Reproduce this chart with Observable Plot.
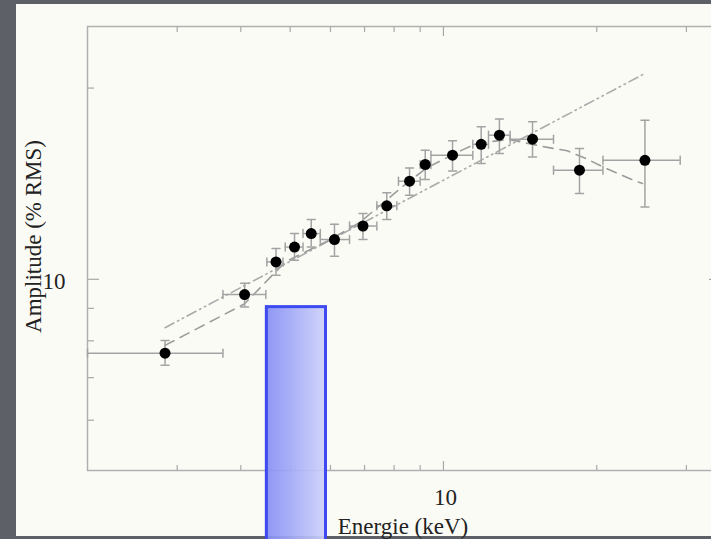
<!DOCTYPE html>
<html><head><meta charset="utf-8">
<script src="https://cdn.jsdelivr.net/npm/d3@7"></script>
<script src="https://cdn.jsdelivr.net/npm/@observablehq/plot@0.6"></script>
<style>
html,body{margin:0;padding:0;background:#5d6067;}
#wrap{position:relative;width:711px;height:539px;overflow:hidden;background:#5d6067;}
#panel{position:absolute;left:16px;top:4px;width:695px;height:532px;background:#fbfbf6;}
#chart{position:absolute;left:0;top:0;width:720px;height:539px;}
#chart svg{max-width:none !important;width:720px;height:539px;}
</style></head><body>
<div id="wrap"><div id="panel"></div><div id="chart"></div></div>
<script>
// Data points (energy bins in keV, amplitude in % RMS)
const energy   = [2.84, 4.07, 4.69, 5.10, 5.50, 6.11, 6.95, 7.74, 8.58, 9.21, 10.42, 11.86, 12.88, 14.96, 18.50, 24.87];
const energyLo = [2.00, 3.69, 4.50, 4.89, 5.30, 5.73, 6.54, 7.40, 8.16, 9.00, 9.45, 11.42, 12.26, 13.52, 16.45, 20.57];
const energyHi = [3.69, 4.48, 4.84, 5.30, 5.73, 6.54, 7.40, 8.10, 9.00, 9.45, 11.42, 12.26, 13.52, 16.45, 20.57, 29.17];
const amplitude = [7.65, 9.46, 10.65, 11.24, 11.80, 11.55, 12.13, 13.05, 14.27, 15.16, 15.68, 16.31, 16.86, 16.62, 14.85, 15.39];
const ampLo     = [7.32, 9.04, 10.15, 10.71, 11.24, 10.87, 11.55, 12.42, 13.56, 14.36, 14.81, 15.22, 15.78, 15.58, 13.65, 12.99];
const ampHi     = [8.01, 9.86, 11.18, 11.80, 12.42, 12.21, 12.69, 13.68, 14.97, 15.97, 16.52, 17.38, 17.87, 17.70, 16.07, 17.79];

// Dashed model curve
const modelEnergy = [2.84, 4.07, 4.89, 5.43, 6.0, 6.86, 7.97, 8.41, 9.3, 10.93, 11.63, 13.4, 13.95, 15.8, 17.5, 19.0, 20.9, 23.6, 24.6];
const modelAmp    = [7.87, 9.15, 10.65, 11.1, 11.55, 12.3, 13.6, 14.1, 15.0, 16.0, 16.36, 16.6, 16.5, 16.16, 15.93, 15.5, 14.94, 14.32, 14.15];

// Dash-dot power law
const powerLawEnergy = [2.84, 24.9];
const powerLawAmp    = [8.39, 21.1];

// Highlighted energy band
const bandLo = [4.50];
const bandHi = [5.88];
const bandTop = [9.04];

// Axes
const xDomain = [2, 35];
const yDomain = [5, 25];
const xTickMajor = [10];
const xTickMinor = [3, 4, 5, 6, 7, 8, 9, 20, 30];
const yTickMajor = [10];
const yTickMinor = [6, 7, 8, 9, 20];

const points = energy.map((e, i) => ({e, lo: energyLo[i], hi: energyHi[i], a: amplitude[i], alo: ampLo[i], ahi: ampHi[i]}));
const model = modelEnergy.map((e, i) => ({e, a: modelAmp[i]}));
const powerLaw = powerLawEnergy.map((e, i) => ({e, a: powerLawAmp[i]}));
const band = bandLo.map((lo, i) => ({lo, hi: bandHi[i], top: bandTop[i], bottom: yDomain[0]}));

const hCap = {draw(ctx, l) { ctx.moveTo(-l / 2, 0); ctx.lineTo(l / 2, 0); }};
const vCap = {draw(ctx, l) { ctx.moveTo(0, -l / 2); ctx.lineTo(0, l / 2); }};

const font = "Liberation Serif, Times New Roman, serif";
const tickColor = "#a8a8a8";
const errColor = "#a3a3a3";
const textColor = "#222";
const none = () => "";

const chart = Plot.plot({
  width: 720,
  height: 539,
  marginLeft: 87,
  marginRight: 0,
  marginTop: 26,
  marginBottom: 69,
  style: {background: "transparent", fontFamily: font, overflow: "visible", maxWidth: "none"},
  x: {type: "log", domain: xDomain},
  y: {type: "log", domain: yDomain},
  marks: [
    Plot.frame({stroke: "#b0b0b0", strokeWidth: 1.5}),
    // ticks (inward)
    Plot.axisX(xTickMinor, {anchor: "bottom", tickSize: -5, tickFormat: none, label: null, stroke: tickColor, strokeWidth: 1.2}),
    Plot.axisX(xTickMajor, {anchor: "bottom", tickSize: -9, tickFormat: none, label: null, stroke: tickColor, strokeWidth: 1.2}),
    Plot.axisX(xTickMinor, {anchor: "top", tickSize: -5, tickFormat: none, label: null, stroke: tickColor, strokeWidth: 1.2}),
    Plot.axisX(xTickMajor, {anchor: "top", tickSize: -9, tickFormat: none, label: null, stroke: tickColor, strokeWidth: 1.2}),
    Plot.axisY(yTickMinor, {anchor: "left", tickSize: -7, tickFormat: none, label: null, stroke: tickColor, strokeWidth: 1.2}),
    Plot.axisY(yTickMajor, {anchor: "left", tickSize: -12, tickFormat: none, label: null, stroke: tickColor, strokeWidth: 1.2}),
    Plot.axisY(yTickMinor, {anchor: "right", tickSize: -7, tickFormat: none, label: null, stroke: tickColor, strokeWidth: 1.2}),
    Plot.axisY(yTickMajor, {anchor: "right", tickSize: -12, tickFormat: none, label: null, stroke: tickColor, strokeWidth: 1.2}),
    // tick labels
    Plot.axisX(xTickMajor, {anchor: "bottom", tickSize: 0, tickPadding: 18, dx: 2, tickFormat: d => String(d), label: null, fontSize: 23, fontFamily: font, fill: textColor, stroke: null}),
    Plot.axisY(yTickMajor, {anchor: "left", tickSize: 0, tickPadding: 22, dy: 2, tickFormat: d => String(d), label: null, fontSize: 23, fontFamily: font, fill: textColor, stroke: null}),
    // axis titles
    Plot.text(["Amplitude (% RMS)"], {frameAnchor: "left", textAnchor: "middle", lineAnchor: "middle", rotate: -90, dx: -54, dy: -12, fontSize: 23, fontFamily: font, fill: textColor}),
    Plot.text(["Energie (keV)"], {frameAnchor: "bottom", textAnchor: "middle", lineAnchor: "middle", dx: -1, dy: 56, fontSize: 23, fontFamily: font, fill: textColor}),
    // model lines
    Plot.line(powerLaw, {x: "e", y: "a", stroke: "#aaaaaa", strokeWidth: 1.6, strokeDasharray: "10,4,1.5,4,1.5,4"}),
    Plot.line(model, {x: "e", y: "a", stroke: "#9c9c9c", strokeWidth: 1.6, strokeDasharray: "10,7"}),
    // error bars
    Plot.ruleX(points, {x: "e", y1: "alo", y2: "ahi", stroke: errColor, strokeWidth: 1.5}),
    Plot.ruleY(points, {y: "a", x1: "lo", x2: "hi", stroke: errColor, strokeWidth: 1.5}),
    Plot.vector(points, {x: "e", y: "alo", length: 8, anchor: "start", shape: hCap, stroke: errColor, strokeWidth: 1.5}),
    Plot.vector(points, {x: "e", y: "ahi", length: 8, anchor: "start", shape: hCap, stroke: errColor, strokeWidth: 1.5}),
    Plot.vector(points, {x: "lo", y: "a", length: 8, anchor: "start", shape: vCap, stroke: errColor, strokeWidth: 1.5}),
    Plot.vector(points, {x: "hi", y: "a", length: 8, anchor: "start", shape: vCap, stroke: errColor, strokeWidth: 1.5}),
    // data points
    Plot.dot(points, {x: "e", y: "a", r: 5.5, fill: "black", stroke: "none"}),
    // highlight band
    Plot.rect(band, {x1: "lo", x2: "hi", y1: "bottom", y2: "top", insetBottom: -75, fill: "url(#blueGrad)", fillOpacity: 0.92, stroke: "#3d4af0", strokeWidth: 3})
  ]
});

const ns = "http://www.w3.org/2000/svg";
const defs = document.createElementNS(ns, "defs");
const grad = document.createElementNS(ns, "linearGradient");
grad.setAttribute("id", "blueGrad");
grad.setAttribute("x1", "0"); grad.setAttribute("x2", "1");
grad.setAttribute("y1", "0"); grad.setAttribute("y2", "0");
[["0", "#858ef5"], ["1", "#cdd1fa"]].forEach(([o, c]) => {
  const s = document.createElementNS(ns, "stop");
  s.setAttribute("offset", o); s.setAttribute("stop-color", c);
  grad.appendChild(s);
});
defs.appendChild(grad);
chart.insertBefore(defs, chart.firstChild);
chart.style.maxWidth = "none";
document.getElementById("chart").appendChild(chart);
</script>
</body></html>
